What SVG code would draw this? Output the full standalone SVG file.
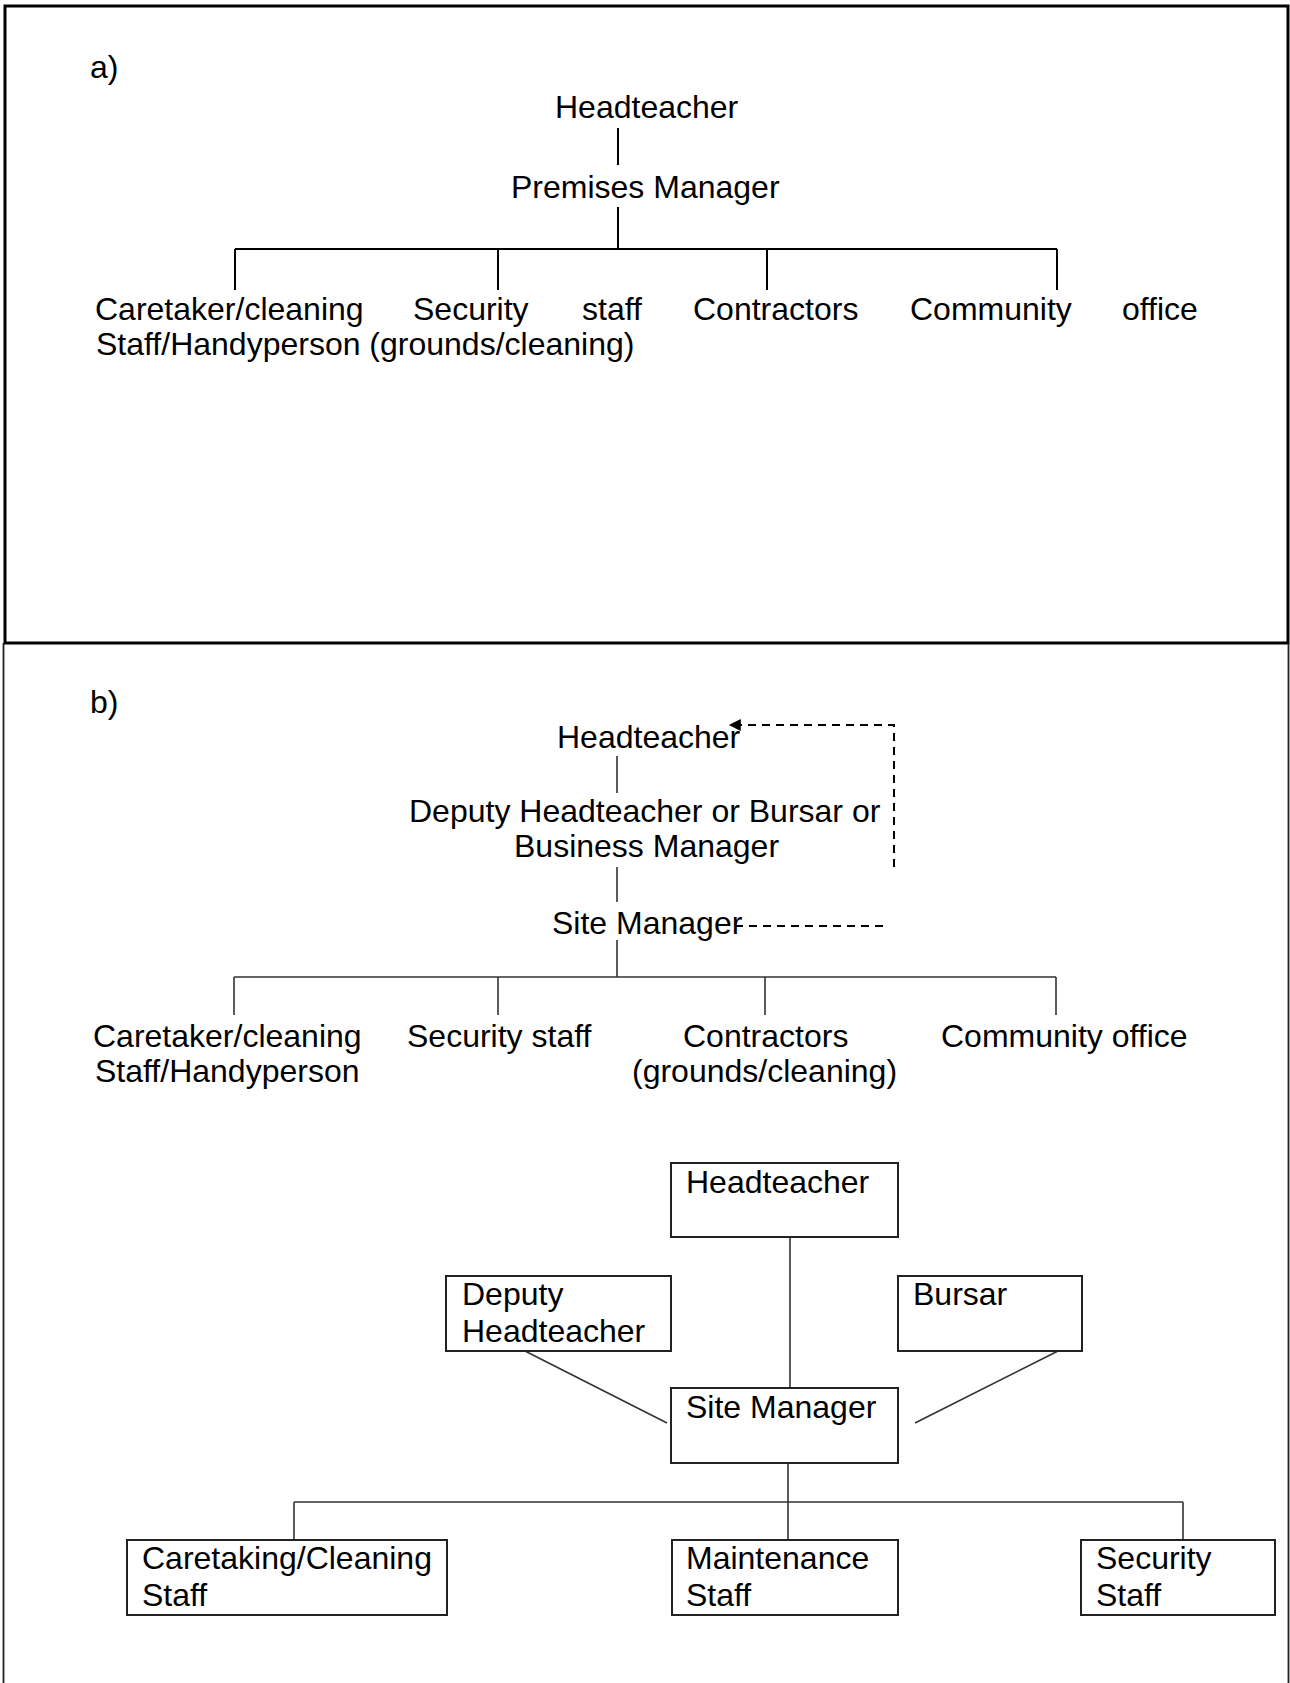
<svg xmlns="http://www.w3.org/2000/svg" width="1290" height="1683" viewBox="0 0 1290 1683">
<style>
text{font-family:"Liberation Sans",Arial,sans-serif;font-size:32px;fill:#000}
.frame{fill:none;stroke:#000;stroke-width:3}
.la{stroke:#000;stroke-width:2;fill:none}
.lb{stroke:#333;stroke-width:1.6;fill:none}
.dash{stroke:#000;stroke-width:2;fill:none;stroke-dasharray:8 6}
.box{fill:#fff;stroke:#222;stroke-width:2}
</style>
<defs>
<marker id="arr" viewBox="0 0 10 10" refX="9" refY="5" markerWidth="14" markerHeight="12" markerUnits="userSpaceOnUse" orient="auto">
<path d="M0,0L10,5L0,10z" fill="#000"/>
</marker>
</defs>
<rect width="1290" height="1683" fill="#fff"/>
<g id="frames">
<rect class="frame" x="5" y="6" width="1283" height="637"/>
<path d="M3.5,643V1683M1288.5,643V1683" stroke="#222" stroke-width="1.8" fill="none"/>
</g>
<g id="connectors">
<path class="la" d="M618,128V165M618,207V249M235,249H1057M235,249V290M498,249V290M767,249V290M1057,249V290"/>
<path class="lb" d="M617,756V793M617,867V902M617,940V977M234,977H1056M234,977V1015M498,977V1015M765,977V1015M1056,977V1015"/>
<path class="dash" d="M894,867V725H730" marker-end="url(#arr)"/>
<path class="dash" d="M735,926H886"/>
<path class="lb" d="M790,1237V1388M525,1351L667,1423M1058,1351L915,1423M788,1463V1540M294,1502H1183M294,1502V1540M1183,1502V1540"/>
</g>
<g id="labels">
<text x="90" y="78">a)</text>
<text x="90" y="713">b)</text>
</g>
<g id="a-headteacher"><text x="555" y="118">Headteacher</text></g>
<g id="a-premises"><text x="511" y="198">Premises Manager</text></g>
<g id="a-caretaker"><text x="95" y="320">Caretaker/cleaning</text><text x="96" y="355">Staff/Handyperson (grounds/cleaning)</text></g>
<g id="a-security"><text x="413" y="320">Security</text><text x="582" y="320">staff</text></g>
<g id="a-contractors"><text x="693" y="320">Contractors</text></g>
<g id="a-community"><text x="910" y="320">Community</text><text x="1122" y="320">office</text></g>
<g id="b-headteacher"><text x="557" y="748">Headteacher</text></g>
<g id="b-deputy"><text x="409" y="822">Deputy Headteacher or Bursar or</text><text x="514" y="857">Business Manager</text></g>
<g id="b-site"><text x="552" y="934">Site Manager</text></g>
<g id="b-caretaker"><text x="93" y="1047">Caretaker/cleaning</text><text x="95" y="1082">Staff/Handyperson</text></g>
<g id="b-security"><text x="407" y="1047">Security staff</text></g>
<g id="b-contractors"><text x="683" y="1047">Contractors</text><text x="632" y="1082">(grounds/cleaning)</text></g>
<g id="b-community"><text x="941" y="1047">Community office</text></g>
<g id="c-headteacher"><rect class="box" x="671" y="1163" width="227" height="74"/><text x="686" y="1193">Headteacher</text></g>
<g id="c-deputy"><rect class="box" x="446" y="1276" width="225" height="75"/><text x="462" y="1305">Deputy</text><text x="462" y="1342">Headteacher</text></g>
<g id="c-bursar"><rect class="box" x="898" y="1276" width="184" height="75"/><text x="913" y="1305">Bursar</text></g>
<g id="c-site"><rect class="box" x="671" y="1388" width="227" height="75"/><text x="686" y="1418">Site Manager</text></g>
<g id="c-caretaking"><rect class="box" x="127" y="1540" width="320" height="75"/><text x="142" y="1569">Caretaking/Cleaning</text><text x="142" y="1606">Staff</text></g>
<g id="c-maintenance"><rect class="box" x="672" y="1540" width="226" height="75"/><text x="686" y="1569">Maintenance</text><text x="686" y="1606">Staff</text></g>
<g id="c-security"><rect class="box" x="1081" y="1540" width="194" height="75"/><text x="1096" y="1569">Security</text><text x="1096" y="1606">Staff</text></g>
</svg>
